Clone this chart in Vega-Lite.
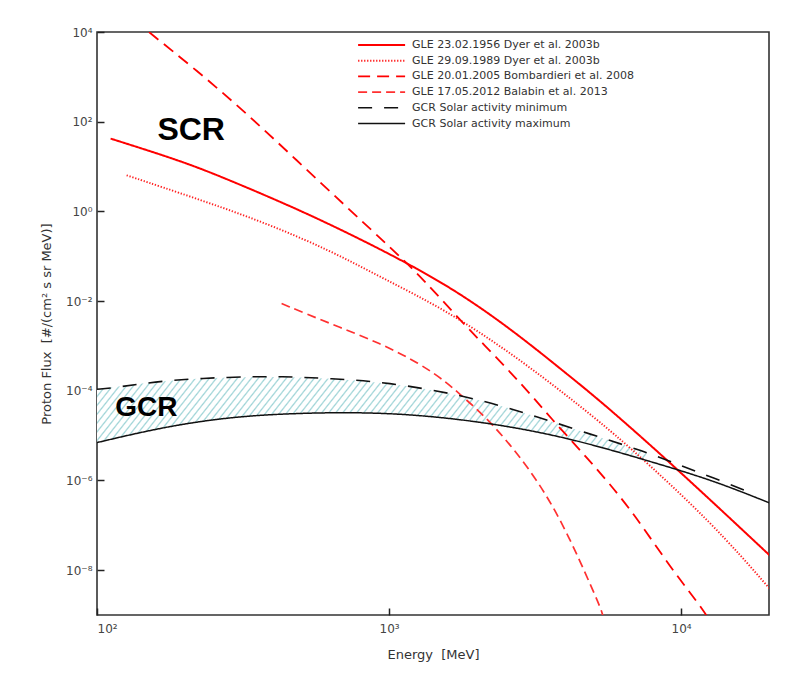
{
"$schema": "https://vega.github.io/schema/vega-lite/v6.json",
"width": 672, "height": 583,
"autosize": {"type": "none"},
"padding": {"left": 97, "top": 32, "right": 27, "bottom": 62},
"background": "white",
"config": {
 "view": {"stroke": "#333", "strokeWidth": 1.6},
 "axis": {"labelFont": "DejaVu Sans", "labelFontSize": 12, "labelColor": "#444", "titleFont": "DejaVu Sans", "titleFontSize": 13, "titleFontWeight": "normal", "titleColor": "#333", "grid": false, "domain": false, "zindex": 2},
 "legend": {"orient": "none", "legendX": 277.6, "legendY": 6, "padding": 0, "symbolType": "M-4,0H4", "symbolSize": 138, "symbolFillColor": "transparent", "labelFont": "DejaVu Sans", "labelFontSize": 11, "labelColor": "#333", "labelOffset": 23.5, "labelLimit": 400, "rowPadding": 3.7, "title": null}
},
"layer": [
 {
  "data": {"values": [
   {"E": 100, "lo": 7.0e-6, "hi": 1.08e-4},
   {"E": 168.7, "lo": 1.56e-5, "hi": 1.71e-4},
   {"E": 285, "lo": 2.61e-5, "hi": 2.03e-4},
   {"E": 482.8, "lo": 3.20e-5, "hi": 2.07e-4},
   {"E": 981, "lo": 3.37e-5, "hi": 1.57e-4},
   {"E": 1791, "lo": 2.38e-5, "hi": 7.94e-5},
   {"E": 2875, "lo": 1.44e-5, "hi": 3.37e-5},
   {"E": 4613, "lo": 7.67e-6, "hi": 1.21e-5},
   {"E": 7606, "lo": 2.82e-6, "hi": 4.32e-6}
  ]},
  "mark": {"type": "area", "interpolate": "basis", "clip": true, "color": {"gradient": "linear", "x1": 0, "y1": 0, "x2": 1.11, "y2": 0.1334, "stops": [
{"offset":0,"color":"#fff"},{"offset":0.0025,"color":"#9dd3d6"},{"offset":0.005,"color":"#fff"},
{"offset":0.0113,"color":"#fff"},{"offset":0.0138,"color":"#9dd3d6"},{"offset":0.0163,"color":"#fff"},
{"offset":0.0226,"color":"#fff"},{"offset":0.0251,"color":"#9dd3d6"},{"offset":0.0276,"color":"#fff"},
{"offset":0.0339,"color":"#fff"},{"offset":0.0364,"color":"#9dd3d6"},{"offset":0.0389,"color":"#fff"},
{"offset":0.0452,"color":"#fff"},{"offset":0.0477,"color":"#9dd3d6"},{"offset":0.0502,"color":"#fff"},
{"offset":0.0565,"color":"#fff"},{"offset":0.059,"color":"#9dd3d6"},{"offset":0.0615,"color":"#fff"},
{"offset":0.0678,"color":"#fff"},{"offset":0.0703,"color":"#9dd3d6"},{"offset":0.0728,"color":"#fff"},
{"offset":0.0791,"color":"#fff"},{"offset":0.0816,"color":"#9dd3d6"},{"offset":0.0841,"color":"#fff"},
{"offset":0.0904,"color":"#fff"},{"offset":0.0929,"color":"#9dd3d6"},{"offset":0.0954,"color":"#fff"},
{"offset":0.1017,"color":"#fff"},{"offset":0.1042,"color":"#9dd3d6"},{"offset":0.1067,"color":"#fff"},
{"offset":0.113,"color":"#fff"},{"offset":0.1155,"color":"#9dd3d6"},{"offset":0.118,"color":"#fff"},
{"offset":0.1243,"color":"#fff"},{"offset":0.1268,"color":"#9dd3d6"},{"offset":0.1293,"color":"#fff"},
{"offset":0.1356,"color":"#fff"},{"offset":0.1381,"color":"#9dd3d6"},{"offset":0.1406,"color":"#fff"},
{"offset":0.1469,"color":"#fff"},{"offset":0.1494,"color":"#9dd3d6"},{"offset":0.1519,"color":"#fff"},
{"offset":0.1582,"color":"#fff"},{"offset":0.1607,"color":"#9dd3d6"},{"offset":0.1632,"color":"#fff"},
{"offset":0.1695,"color":"#fff"},{"offset":0.172,"color":"#9dd3d6"},{"offset":0.1745,"color":"#fff"},
{"offset":0.1808,"color":"#fff"},{"offset":0.1833,"color":"#9dd3d6"},{"offset":0.1858,"color":"#fff"},
{"offset":0.1921,"color":"#fff"},{"offset":0.1946,"color":"#9dd3d6"},{"offset":0.1971,"color":"#fff"},
{"offset":0.2034,"color":"#fff"},{"offset":0.2059,"color":"#9dd3d6"},{"offset":0.2084,"color":"#fff"},
{"offset":0.2147,"color":"#fff"},{"offset":0.2172,"color":"#9dd3d6"},{"offset":0.2197,"color":"#fff"},
{"offset":0.226,"color":"#fff"},{"offset":0.2285,"color":"#9dd3d6"},{"offset":0.231,"color":"#fff"},
{"offset":0.2373,"color":"#fff"},{"offset":0.2398,"color":"#9dd3d6"},{"offset":0.2423,"color":"#fff"},
{"offset":0.2486,"color":"#fff"},{"offset":0.2511,"color":"#9dd3d6"},{"offset":0.2536,"color":"#fff"},
{"offset":0.2599,"color":"#fff"},{"offset":0.2624,"color":"#9dd3d6"},{"offset":0.2649,"color":"#fff"},
{"offset":0.2712,"color":"#fff"},{"offset":0.2737,"color":"#9dd3d6"},{"offset":0.2762,"color":"#fff"},
{"offset":0.2825,"color":"#fff"},{"offset":0.285,"color":"#9dd3d6"},{"offset":0.2875,"color":"#fff"},
{"offset":0.2938,"color":"#fff"},{"offset":0.2963,"color":"#9dd3d6"},{"offset":0.2988,"color":"#fff"},
{"offset":0.3051,"color":"#fff"},{"offset":0.3076,"color":"#9dd3d6"},{"offset":0.3101,"color":"#fff"},
{"offset":0.3164,"color":"#fff"},{"offset":0.3189,"color":"#9dd3d6"},{"offset":0.3214,"color":"#fff"},
{"offset":0.3277,"color":"#fff"},{"offset":0.3302,"color":"#9dd3d6"},{"offset":0.3327,"color":"#fff"},
{"offset":0.339,"color":"#fff"},{"offset":0.3415,"color":"#9dd3d6"},{"offset":0.344,"color":"#fff"},
{"offset":0.3503,"color":"#fff"},{"offset":0.3528,"color":"#9dd3d6"},{"offset":0.3553,"color":"#fff"},
{"offset":0.3616,"color":"#fff"},{"offset":0.3641,"color":"#9dd3d6"},{"offset":0.3666,"color":"#fff"},
{"offset":0.3729,"color":"#fff"},{"offset":0.3754,"color":"#9dd3d6"},{"offset":0.3779,"color":"#fff"},
{"offset":0.3842,"color":"#fff"},{"offset":0.3867,"color":"#9dd3d6"},{"offset":0.3892,"color":"#fff"},
{"offset":0.3955,"color":"#fff"},{"offset":0.398,"color":"#9dd3d6"},{"offset":0.4005,"color":"#fff"},
{"offset":0.4068,"color":"#fff"},{"offset":0.4093,"color":"#9dd3d6"},{"offset":0.4118,"color":"#fff"},
{"offset":0.4181,"color":"#fff"},{"offset":0.4206,"color":"#9dd3d6"},{"offset":0.4231,"color":"#fff"},
{"offset":0.4294,"color":"#fff"},{"offset":0.4319,"color":"#9dd3d6"},{"offset":0.4344,"color":"#fff"},
{"offset":0.4407,"color":"#fff"},{"offset":0.4432,"color":"#9dd3d6"},{"offset":0.4457,"color":"#fff"},
{"offset":0.452,"color":"#fff"},{"offset":0.4545,"color":"#9dd3d6"},{"offset":0.457,"color":"#fff"},
{"offset":0.4633,"color":"#fff"},{"offset":0.4658,"color":"#9dd3d6"},{"offset":0.4683,"color":"#fff"},
{"offset":0.4746,"color":"#fff"},{"offset":0.4771,"color":"#9dd3d6"},{"offset":0.4796,"color":"#fff"},
{"offset":0.4859,"color":"#fff"},{"offset":0.4884,"color":"#9dd3d6"},{"offset":0.4909,"color":"#fff"},
{"offset":0.4972,"color":"#fff"},{"offset":0.4997,"color":"#9dd3d6"},{"offset":0.5022,"color":"#fff"},
{"offset":0.5085,"color":"#fff"},{"offset":0.511,"color":"#9dd3d6"},{"offset":0.5135,"color":"#fff"},
{"offset":0.5198,"color":"#fff"},{"offset":0.5223,"color":"#9dd3d6"},{"offset":0.5248,"color":"#fff"},
{"offset":0.5311,"color":"#fff"},{"offset":0.5336,"color":"#9dd3d6"},{"offset":0.5361,"color":"#fff"},
{"offset":0.5424,"color":"#fff"},{"offset":0.5449,"color":"#9dd3d6"},{"offset":0.5474,"color":"#fff"},
{"offset":0.5537,"color":"#fff"},{"offset":0.5562,"color":"#9dd3d6"},{"offset":0.5587,"color":"#fff"},
{"offset":0.565,"color":"#fff"},{"offset":0.5675,"color":"#9dd3d6"},{"offset":0.57,"color":"#fff"},
{"offset":0.5763,"color":"#fff"},{"offset":0.5788,"color":"#9dd3d6"},{"offset":0.5813,"color":"#fff"},
{"offset":0.5876,"color":"#fff"},{"offset":0.5901,"color":"#9dd3d6"},{"offset":0.5926,"color":"#fff"},
{"offset":0.5989,"color":"#fff"},{"offset":0.6014,"color":"#9dd3d6"},{"offset":0.6039,"color":"#fff"},
{"offset":0.6102,"color":"#fff"},{"offset":0.6127,"color":"#9dd3d6"},{"offset":0.6152,"color":"#fff"},
{"offset":0.6215,"color":"#fff"},{"offset":0.624,"color":"#9dd3d6"},{"offset":0.6265,"color":"#fff"},
{"offset":0.6328,"color":"#fff"},{"offset":0.6353,"color":"#9dd3d6"},{"offset":0.6378,"color":"#fff"},
{"offset":0.6441,"color":"#fff"},{"offset":0.6466,"color":"#9dd3d6"},{"offset":0.6491,"color":"#fff"},
{"offset":0.6554,"color":"#fff"},{"offset":0.6579,"color":"#9dd3d6"},{"offset":0.6604,"color":"#fff"},
{"offset":0.6667,"color":"#fff"},{"offset":0.6692,"color":"#9dd3d6"},{"offset":0.6717,"color":"#fff"},
{"offset":0.678,"color":"#fff"},{"offset":0.6805,"color":"#9dd3d6"},{"offset":0.683,"color":"#fff"},
{"offset":0.6893,"color":"#fff"},{"offset":0.6918,"color":"#9dd3d6"},{"offset":0.6943,"color":"#fff"},
{"offset":0.7006,"color":"#fff"},{"offset":0.7031,"color":"#9dd3d6"},{"offset":0.7056,"color":"#fff"},
{"offset":0.7119,"color":"#fff"},{"offset":0.7144,"color":"#9dd3d6"},{"offset":0.7169,"color":"#fff"},
{"offset":0.7232,"color":"#fff"},{"offset":0.7257,"color":"#9dd3d6"},{"offset":0.7282,"color":"#fff"},
{"offset":0.7345,"color":"#fff"},{"offset":0.737,"color":"#9dd3d6"},{"offset":0.7395,"color":"#fff"},
{"offset":0.7458,"color":"#fff"},{"offset":0.7483,"color":"#9dd3d6"},{"offset":0.7508,"color":"#fff"},
{"offset":0.7571,"color":"#fff"},{"offset":0.7596,"color":"#9dd3d6"},{"offset":0.7621,"color":"#fff"},
{"offset":0.7684,"color":"#fff"},{"offset":0.7709,"color":"#9dd3d6"},{"offset":0.7734,"color":"#fff"},
{"offset":0.7797,"color":"#fff"},{"offset":0.7822,"color":"#9dd3d6"},{"offset":0.7847,"color":"#fff"},
{"offset":0.791,"color":"#fff"},{"offset":0.7935,"color":"#9dd3d6"},{"offset":0.796,"color":"#fff"},
{"offset":0.8023,"color":"#fff"},{"offset":0.8048,"color":"#9dd3d6"},{"offset":0.8073,"color":"#fff"},
{"offset":0.8136,"color":"#fff"},{"offset":0.8161,"color":"#9dd3d6"},{"offset":0.8186,"color":"#fff"},
{"offset":0.8249,"color":"#fff"},{"offset":0.8274,"color":"#9dd3d6"},{"offset":0.8299,"color":"#fff"},
{"offset":0.8362,"color":"#fff"},{"offset":0.8387,"color":"#9dd3d6"},{"offset":0.8412,"color":"#fff"},
{"offset":0.8475,"color":"#fff"},{"offset":0.85,"color":"#9dd3d6"},{"offset":0.8525,"color":"#fff"},
{"offset":0.8588,"color":"#fff"},{"offset":0.8613,"color":"#9dd3d6"},{"offset":0.8638,"color":"#fff"},
{"offset":0.8701,"color":"#fff"},{"offset":0.8726,"color":"#9dd3d6"},{"offset":0.8751,"color":"#fff"},
{"offset":0.8814,"color":"#fff"},{"offset":0.8839,"color":"#9dd3d6"},{"offset":0.8864,"color":"#fff"},
{"offset":0.8927,"color":"#fff"},{"offset":0.8952,"color":"#9dd3d6"},{"offset":0.8977,"color":"#fff"},
{"offset":0.904,"color":"#fff"},{"offset":0.9065,"color":"#9dd3d6"},{"offset":0.909,"color":"#fff"},
{"offset":0.9153,"color":"#fff"},{"offset":0.9178,"color":"#9dd3d6"},{"offset":0.9203,"color":"#fff"},
{"offset":0.9266,"color":"#fff"},{"offset":0.9291,"color":"#9dd3d6"},{"offset":0.9316,"color":"#fff"},
{"offset":0.9379,"color":"#fff"},{"offset":0.9404,"color":"#9dd3d6"},{"offset":0.9429,"color":"#fff"},
{"offset":0.9492,"color":"#fff"},{"offset":0.9517,"color":"#9dd3d6"},{"offset":0.9542,"color":"#fff"},
{"offset":0.9605,"color":"#fff"},{"offset":0.963,"color":"#9dd3d6"},{"offset":0.9655,"color":"#fff"},
{"offset":0.9718,"color":"#fff"},{"offset":0.9743,"color":"#9dd3d6"},{"offset":0.9768,"color":"#fff"},
{"offset":0.9831,"color":"#fff"},{"offset":0.9856,"color":"#9dd3d6"},{"offset":0.9881,"color":"#fff"},
{"offset":1,"color":"#fff"}
  ]}},
  "encoding": {
   "x": {"field": "E", "type": "quantitative", "title": "Energy \u00a0[MeV]", "scale": {"type": "log", "domain": [100, 20000], "nice": false}, "axis": {"values": [100, 1000, 10000], "labelExpr": "datum.value < 500 ? '10²' : datum.value < 5000 ? '10³' : '10⁴'", "ticks": true, "tickSize": 7, "tickColor": "#222", "tickWidth": 1.5, "tickOpacity": 1, "offset": -7, "labelPadding": 8, "titlePadding": 14}},
   "y": {"field": "hi", "type": "quantitative", "title": "Proton Flux \u00a0[#/(cm² s sr MeV)]", "scale": {"type": "log", "domain": [1e-9, 10000], "nice": false}, "axis": {"values": [1e-8, 1e-6, 1e-4, 0.01, 1, 100, 10000], "labelExpr": "datum.value >= 5000 ? '10⁴' : datum.value >= 50 ? '10²' : datum.value >= 0.5 ? '10⁰' : datum.value >= 0.005 ? '10⁻²' : datum.value >= 5e-5 ? '10⁻⁴' : datum.value >= 5e-7 ? '10⁻⁶' : '10⁻⁸'", "ticks": true, "tickSize": 7, "tickColor": "#222", "tickWidth": 1.5, "tickOpacity": 1, "offset": -7, "labelPadding": 5, "titlePadding": 12}},
   "y2": {"field": "lo"}
  }
 },
 {
  "data": {"values": [
   {"s": "GLE 23.02.1956 Dyer et al. 2003b", "E": 111.3, "F": 42.0},
   {"s": "GLE 23.02.1956 Dyer et al. 2003b", "E": 168.7, "F": 17.8},
   {"s": "GLE 23.02.1956 Dyer et al. 2003b", "E": 219.4, "F": 9.77},
   {"s": "GLE 23.02.1956 Dyer et al. 2003b", "E": 285, "F": 4.94},
   {"s": "GLE 23.02.1956 Dyer et al. 2003b", "E": 482.8, "F": 1.15},
   {"s": "GLE 23.02.1956 Dyer et al. 2003b", "E": 816, "F": 0.227},
   {"s": "GLE 23.02.1956 Dyer et al. 2003b", "E": 1571, "F": 0.0245},
   {"s": "GLE 23.02.1956 Dyer et al. 2003b", "E": 2655, "F": 2.23e-3},
   {"s": "GLE 23.02.1956 Dyer et al. 2003b", "E": 4046, "F": 2.42e-4},
   {"s": "GLE 23.02.1956 Dyer et al. 2003b", "E": 5261, "F": 6.14e-5},
   {"s": "GLE 23.02.1956 Dyer et al. 2003b", "E": 9141, "F": 2.59e-6},
   {"s": "GLE 23.02.1956 Dyer et al. 2003b", "E": 20090, "F": 2.15e-8},
   {"s": "GLE 29.09.1989 Dyer et al. 2003b", "E": 126.3, "F": 6.38},
   {"s": "GLE 29.09.1989 Dyer et al. 2003b", "E": 219.4, "F": 1.93},
   {"s": "GLE 29.09.1989 Dyer et al. 2003b", "E": 371.2, "F": 0.58},
   {"s": "GLE 29.09.1989 Dyer et al. 2003b", "E": 626.6, "F": 0.136},
   {"s": "GLE 29.09.1989 Dyer et al. 2003b", "E": 956, "F": 0.0318},
   {"s": "GLE 29.09.1989 Dyer et al. 2003b", "E": 1571, "F": 6.24e-3},
   {"s": "GLE 29.09.1989 Dyer et al. 2003b", "E": 2655, "F": 6.5e-4},
   {"s": "GLE 29.09.1989 Dyer et al. 2003b", "E": 4266, "F": 6.14e-5},
   {"s": "GLE 29.09.1989 Dyer et al. 2003b", "E": 6501, "F": 6.65e-6},
   {"s": "GLE 29.09.1989 Dyer et al. 2003b", "E": 12850, "F": 1.09e-7},
   {"s": "GLE 29.09.1989 Dyer et al. 2003b", "E": 20090, "F": 3.89e-9},
   {"s": "GLE 20.01.2005 Bombardieri et al. 2008", "E": 119.5, "F": 33700},
   {"s": "GLE 20.01.2005 Bombardieri et al. 2008", "E": 147.9, "F": 10900},
   {"s": "GLE 20.01.2005 Bombardieri et al. 2008", "E": 219.4, "F": 1400},
   {"s": "GLE 20.01.2005 Bombardieri et al. 2008", "E": 325, "F": 154},
   {"s": "GLE 20.01.2005 Bombardieri et al. 2008", "E": 482.8, "F": 13.8},
   {"s": "GLE 20.01.2005 Bombardieri et al. 2008", "E": 716, "F": 1.25},
   {"s": "GLE 20.01.2005 Bombardieri et al. 2008", "E": 1005, "F": 0.161},
   {"s": "GLE 20.01.2005 Bombardieri et al. 2008", "E": 1306, "F": 0.0318},
   {"s": "GLE 20.01.2005 Bombardieri et al. 2008", "E": 1791, "F": 3.15e-3},
   {"s": "GLE 20.01.2005 Bombardieri et al. 2008", "E": 2331, "F": 5.67e-4},
   {"s": "GLE 20.01.2005 Bombardieri et al. 2008", "E": 3112, "F": 7.28e-5},
   {"s": "GLE 20.01.2005 Bombardieri et al. 2008", "E": 3548, "F": 2.61e-5},
   {"s": "GLE 20.01.2005 Bombardieri et al. 2008", "E": 4743, "F": 3.34e-6},
   {"s": "GLE 20.01.2005 Bombardieri et al. 2008", "E": 6668, "F": 2.57e-7},
   {"s": "GLE 20.01.2005 Bombardieri et al. 2008", "E": 9141, "F": 1.18e-8},
   {"s": "GLE 20.01.2005 Bombardieri et al. 2008", "E": 12220, "F": 1.08e-9},
   {"s": "GLE 20.01.2005 Bombardieri et al. 2008", "E": 13030, "F": 4.57e-10},
   {"s": "GLE 17.05.2012 Balabin et al. 2013", "E": 428.6, "F": 8.79e-3},
   {"s": "GLE 17.05.2012 Balabin et al. 2013", "E": 627.7, "F": 3.15e-3},
   {"s": "GLE 17.05.2012 Balabin et al. 2013", "E": 941, "F": 1.13e-3},
   {"s": "GLE 17.05.2012 Balabin et al. 2013", "E": 1274, "F": 4.04e-4},
   {"s": "GLE 17.05.2012 Balabin et al. 2013", "E": 1571, "F": 1.57e-4},
   {"s": "GLE 17.05.2012 Balabin et al. 2013", "E": 1791, "F": 7.28e-5},
   {"s": "GLE 17.05.2012 Balabin et al. 2013", "E": 2270, "F": 1.86e-5},
   {"s": "GLE 17.05.2012 Balabin et al. 2013", "E": 3191, "F": 1.2e-6},
   {"s": "GLE 17.05.2012 Balabin et al. 2013", "E": 4046, "F": 7.76e-8},
   {"s": "GLE 17.05.2012 Balabin et al. 2013", "E": 4989, "F": 3.56e-9},
   {"s": "GLE 17.05.2012 Balabin et al. 2013", "E": 5402, "F": 1.08e-9},
   {"s": "GLE 17.05.2012 Balabin et al. 2013", "E": 5560, "F": 4.57e-10},
   {"s": "GCR Solar activity minimum", "E": 100, "F": 1.08e-4},
   {"s": "GCR Solar activity minimum", "E": 116.7, "F": 1.18e-4},
   {"s": "GCR Solar activity minimum", "E": 168.7, "F": 1.71e-4},
   {"s": "GCR Solar activity minimum", "E": 285, "F": 2.03e-4},
   {"s": "GCR Solar activity minimum", "E": 434.6, "F": 2.1e-4},
   {"s": "GCR Solar activity minimum", "E": 627.7, "F": 1.87e-4},
   {"s": "GCR Solar activity minimum", "E": 981, "F": 1.57e-4},
   {"s": "GCR Solar activity minimum", "E": 1791, "F": 7.94e-5},
   {"s": "GCR Solar activity minimum", "E": 2875, "F": 3.37e-5},
   {"s": "GCR Solar activity minimum", "E": 4613, "F": 1.21e-5},
   {"s": "GCR Solar activity minimum", "E": 7606, "F": 4.32e-6},
   {"s": "GCR Solar activity minimum", "E": 9887, "F": 2.18e-6},
   {"s": "GCR Solar activity minimum", "E": 12850, "F": 1.16e-6},
   {"s": "GCR Solar activity minimum", "E": 17870, "F": 4.92e-7},
   {"s": "GCR Solar activity maximum", "E": 100, "F": 7.0e-6},
   {"s": "GCR Solar activity maximum", "E": 168.7, "F": 1.56e-5},
   {"s": "GCR Solar activity maximum", "E": 285, "F": 2.61e-5},
   {"s": "GCR Solar activity maximum", "E": 482.8, "F": 3.2e-5},
   {"s": "GCR Solar activity maximum", "E": 981, "F": 3.37e-5},
   {"s": "GCR Solar activity maximum", "E": 2042, "F": 2.12e-5},
   {"s": "GCR Solar activity maximum", "E": 4046, "F": 9.33e-6},
   {"s": "GCR Solar activity maximum", "E": 7606, "F": 2.82e-6},
   {"s": "GCR Solar activity maximum", "E": 12850, "F": 1.01e-6},
   {"s": "GCR Solar activity maximum", "E": 20090, "F": 3.15e-7}
  ]},
  "mark": {"type": "line", "interpolate": "basis", "clip": true},
  "encoding": {
   "x": {"field": "E", "type": "quantitative", "title": "Energy \u00a0[MeV]"},
   "y": {"field": "F", "type": "quantitative", "title": "Proton Flux \u00a0[#/(cm² s sr MeV)]"},
   "color": {"field": "s", "type": "nominal", "title": null, "sort": null, "scale": {"domain": ["GLE 23.02.1956 Dyer et al. 2003b", "GLE 29.09.1989 Dyer et al. 2003b", "GLE 20.01.2005 Bombardieri et al. 2008", "GLE 17.05.2012 Balabin et al. 2013", "GCR Solar activity minimum", "GCR Solar activity maximum"], "range": ["#ff0000", "#ff2020", "#ff0000", "#ff3030", "#111111", "#111111"]}},
   "strokeDash": {"field": "s", "type": "nominal", "title": null, "sort": null, "scale": {"domain": ["GLE 23.02.1956 Dyer et al. 2003b", "GLE 29.09.1989 Dyer et al. 2003b", "GLE 20.01.2005 Bombardieri et al. 2008", "GLE 17.05.2012 Balabin et al. 2013", "GCR Solar activity minimum", "GCR Solar activity maximum"], "range": [[1, 0], [1.3, 1.7], [12, 7], [9, 5], [14, 12], [1, 0]]}},
   "strokeWidth": {"field": "s", "type": "nominal", "title": null, "sort": null, "scale": {"domain": ["GLE 23.02.1956 Dyer et al. 2003b", "GLE 29.09.1989 Dyer et al. 2003b", "GLE 20.01.2005 Bombardieri et al. 2008", "GLE 17.05.2012 Balabin et al. 2013", "GCR Solar activity minimum", "GCR Solar activity maximum"], "range": [2, 1.5, 2.2, 1.8, 1.8, 1.8]}}
  }
 },
 {
  "data": {"values": [{"t": "SCR", "E": 210.1, "F": 64.3}]},
  "mark": {"type": "text", "font": "Liberation Sans", "fontWeight": "bold", "fontSize": 32, "align": "center", "baseline": "middle", "color": "#000"},
  "encoding": {"x": {"field": "E", "type": "quantitative", "title": "Energy \u00a0[MeV]"}, "y": {"field": "F", "type": "quantitative", "title": "Proton Flux \u00a0[#/(cm² s sr MeV)]"}, "text": {"field": "t"}}
 },
 {
  "data": {"values": [{"t": "GCR", "E": 147.5, "F": 4.07e-5}]},
  "mark": {"type": "text", "font": "Liberation Sans", "fontWeight": "bold", "fontSize": 28, "align": "center", "baseline": "middle", "color": "#000"},
  "encoding": {"x": {"field": "E", "type": "quantitative", "title": "Energy \u00a0[MeV]"}, "y": {"field": "F", "type": "quantitative", "title": "Proton Flux \u00a0[#/(cm² s sr MeV)]"}, "text": {"field": "t"}}
 }
]
}
